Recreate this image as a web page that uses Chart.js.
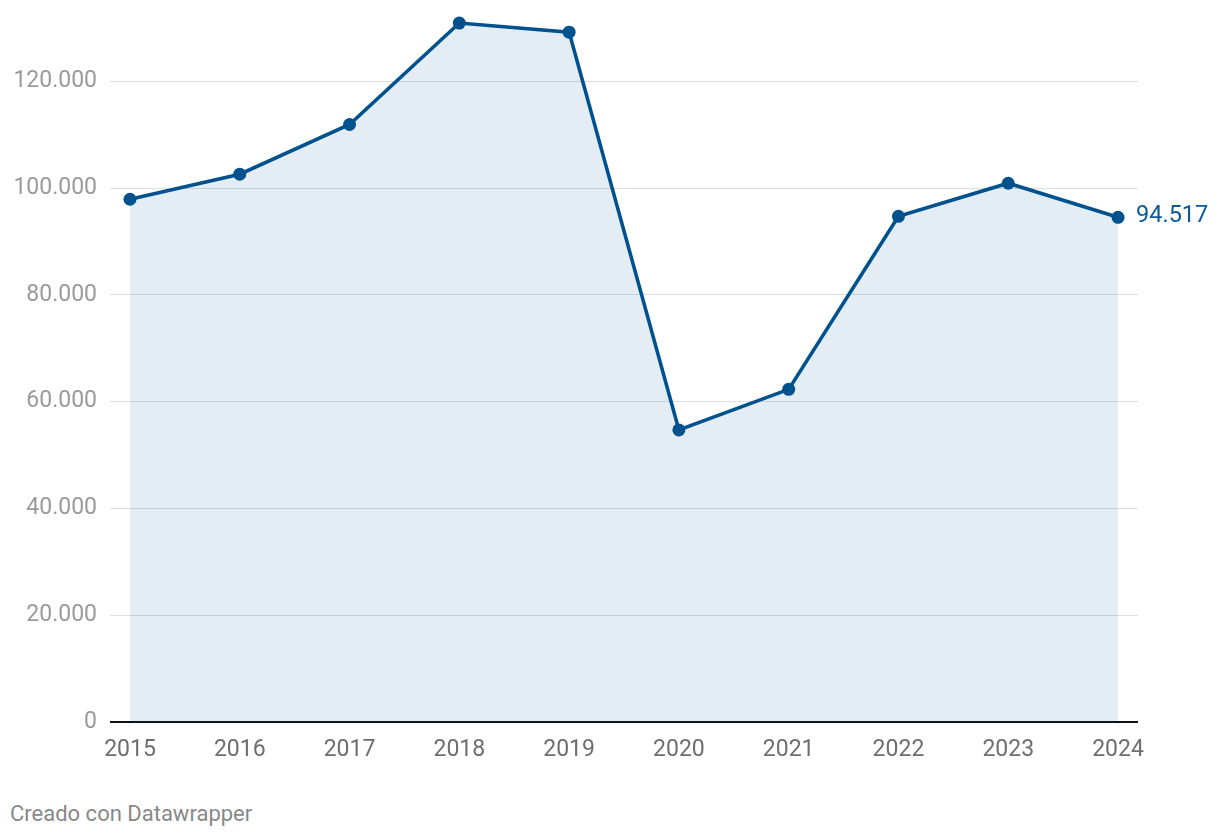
<!DOCTYPE html>
<html>
<head>
<meta charset="utf-8">
<script src="https://cdn.jsdelivr.net/npm/chart.js@4"></script>
<style>
  html, body { margin: 0; padding: 0; background: #fff; }
  #wrap { position: relative; width: 1220px; height: 838px; }
  #footer { position: absolute; left: 10px; top: 801px; font: 22px Roboto, sans-serif; color: #888; }
</style>
</head>
<body>
<div id="wrap">
  <canvas id="chart" width="1220" height="790"></canvas>
  <div id="footer">Creado con Datawrapper</div>
</div>
<script>
// years on the x axis
const years = [2015, 2016, 2017, 2018, 2019, 2020, 2021, 2022, 2023, 2024];
// values per year
const values = [97900, 102600, 111900, 130900, 129200, 54700, 62300, 94700, 100900, 94517];
// y axis ticks
const yTicks = [0, 20000, 40000, 60000, 80000, 100000, 120000];

const lineColor = "#00528f";
const fmt = (v) => v.toLocaleString("de-DE");

// label for the last point
const lastLabel = {
  id: "lastLabel",
  afterDatasetsDraw(chart) {
    const meta = chart.getDatasetMeta(0);
    const pt = meta.data[meta.data.length - 1];
    const ctx = chart.ctx;
    ctx.save();
    ctx.font = "23.5px Roboto";
    ctx.fillStyle = "#0b5a97";
    ctx.textAlign = "left";
    ctx.textBaseline = "middle";
    ctx.fillText(fmt(values[values.length - 1]), pt.x + 18, pt.y - 1);
    ctx.restore();
  },
};

new Chart(document.getElementById("chart"), {
  type: "line",
  plugins: [lastLabel],
  data: {
    datasets: [
      {
        data: years.map((y, i) => ({ x: y, y: values[i] })),
        borderColor: lineColor,
        borderWidth: 3.6,
        backgroundColor: "rgba(0, 82, 143, 0.105)",
        fill: "origin",
        pointRadius: 6.5,
        pointBackgroundColor: lineColor,
        pointBorderWidth: 0,
        tension: 0,
      },
    ],
  },
  options: {
    responsive: false,
    animation: false,
    layout: { padding: { top: 5, right: 82, bottom: 18, left: 0 } },
    plugins: { legend: { display: false }, tooltip: { enabled: false } },
    scales: {
      x: {
        type: "linear",
        min: 2014.818,
        max: 2024.182,
        afterBuildTicks: (s) => { s.ticks = years.map((v) => ({ value: v })); },
        afterFit: (s) => { s.height = 50; s.paddingLeft = 0; s.paddingRight = 0; },
        grid: { display: false, drawTicks: false },
        border: { display: false },
        ticks: {
          padding: 14,
          color: "#6e6e6e",
          maxRotation: 0,
          autoSkip: false,
          font: { family: "Roboto", size: 23 },
          callback: (v) => String(v),
        },
      },
      y: {
        min: 0,
        max: 134000,
        afterBuildTicks: (s) => { s.ticks = yTicks.map((v) => ({ value: v })); },
        afterFit: (s) => { s.width = 110; s.paddingTop = 0; s.paddingBottom = 0; },
        border: { display: false },
        grid: {
          drawTicks: false,
          color: (c) => (c.tick.value === 0 ? "#111" : "#dedede"),
          lineWidth: (c) => (c.tick.value === 0 ? 2 : 1),
        },
        ticks: {
          padding: 13,
          color: "#9a9a9a",
          font: { family: "Roboto", size: 23 },
          callback: (v) => fmt(v),
        },
      },
    },
  },
});
</script>
</body>
</html>
